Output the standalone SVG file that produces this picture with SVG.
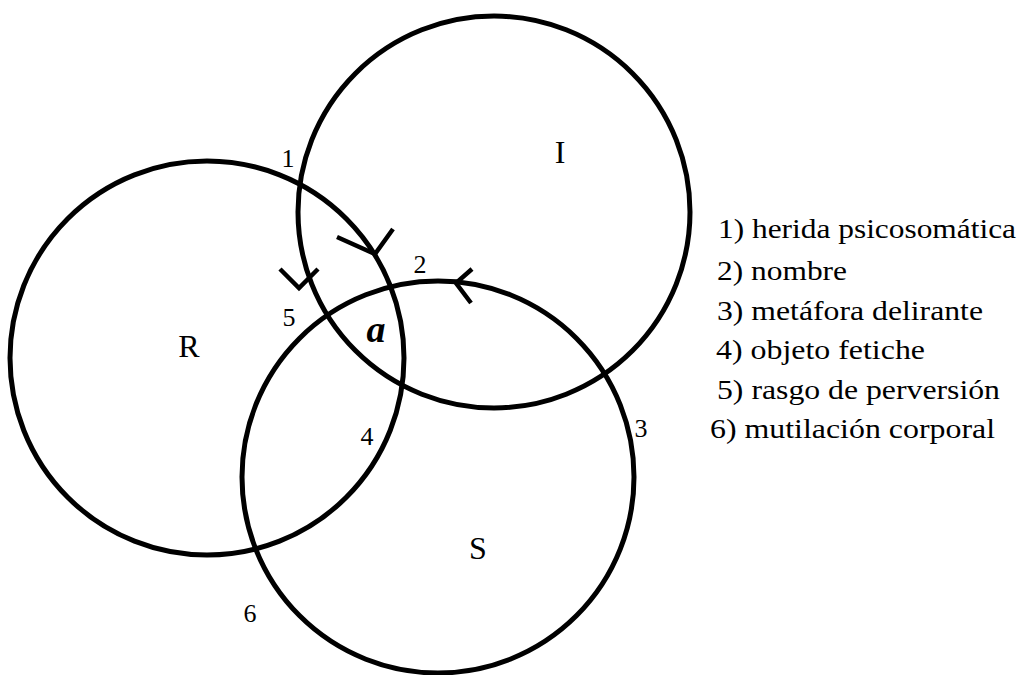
<svg xmlns="http://www.w3.org/2000/svg" width="1023" height="675" viewBox="0 0 1023 675">
<style>
.ring{fill:none;stroke:#000;stroke-width:5}
.tick{fill:none;stroke:#000;stroke-width:4.5;stroke-linejoin:miter}
.big{font-size:32px;text-anchor:middle}
.num{font-size:26px;text-anchor:middle}
.leg{font-size:28px}
.obj{font-size:38px;font-style:italic;font-weight:bold;text-anchor:middle}
</style>
<rect width="1023" height="675" fill="#fff"/>
<g font-family="Liberation Serif, Tinos, Times New Roman, DejaVu Serif, serif" fill="#000">
<g id="node-R">
<circle class="ring" cx="207" cy="358" r="197"/>
<text class="big" x="189" y="357">R</text>
</g>
<g id="node-I">
<circle class="ring" cx="494" cy="212" r="196"/>
<text class="big" x="560" y="163">I</text>
</g>
<g id="node-S">
<circle class="ring" cx="438" cy="477" r="196"/>
<text class="big" x="478" y="559">S</text>
</g>
<g id="connectors">
<path class="tick" d="M337,237 L375,254 L393,229"/>
<path class="tick" d="M280,269 L299,288 L318,269"/>
<path class="tick" d="M472,269 L456,283 L471,303"/>
</g>
<g id="labels">
<text class="obj" x="376" y="342">a</text>
<text class="num" x="288" y="167">1</text>
<text class="num" x="420" y="273">2</text>
<text class="num" x="641" y="437">3</text>
<text class="num" x="367" y="445">4</text>
<text class="num" x="289" y="326">5</text>
<text class="num" x="250" y="622">6</text>
</g>
<g id="legend">
<text class="leg" x="718" y="238" textLength="298" lengthAdjust="spacingAndGlyphs">1) herida psicosomática</text>
<text class="leg" x="717" y="280" textLength="130" lengthAdjust="spacingAndGlyphs">2) nombre</text>
<text class="leg" x="717" y="320" textLength="266" lengthAdjust="spacingAndGlyphs">3) metáfora delirante</text>
<text class="leg" x="716" y="359" textLength="209" lengthAdjust="spacingAndGlyphs">4) objeto fetiche</text>
<text class="leg" x="717" y="399" textLength="283" lengthAdjust="spacingAndGlyphs">5) rasgo de perversión</text>
<text class="leg" x="710" y="438" textLength="285" lengthAdjust="spacingAndGlyphs">6) mutilación corporal</text>
</g>
</g>
</svg>
